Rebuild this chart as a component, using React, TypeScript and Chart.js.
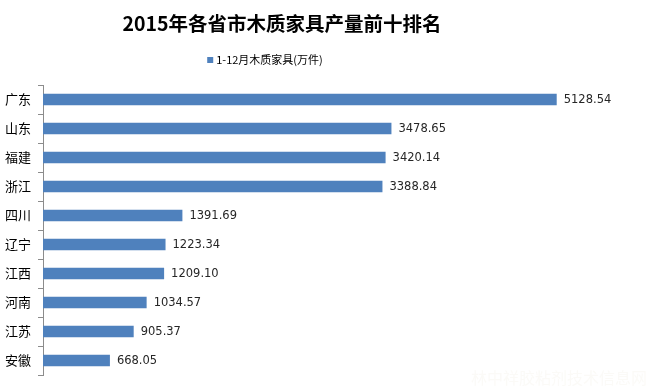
import React, { useEffect, useRef } from "react";
import { Chart, registerables } from "chart.js";

Chart.register(...registerables);

const TITLE = "2015年各省市木质家具产量前十排名";
const SERIES_NAME = "1-12月木质家具(万件)";
const WATERMARK = "林中祥胶粘剂技术信息网";
const provinces = ["广东", "山东", "福建", "浙江", "四川", "辽宁", "江西", "河南", "江苏", "安徽"];
const output = [5128.54, 3478.65, 3420.14, 3388.84, 1391.69, 1223.34, 1209.1, 1034.57, 905.37, 668.05];
const X_MIN = 0;
const X_MAX = 6000;

const BAR_COLOR = "#4F81BD";

const decorPlugin = {
  id: "decor",
  afterDraw(chart: any) {
    const ctx = chart.ctx;
    ctx.save();
    // title
    ctx.fillStyle = "#000";
    ctx.font = "bold 19.5px 'Noto Sans CJK SC'";
    ctx.textAlign = "center";
    ctx.textBaseline = "middle";
    ctx.fillText(TITLE, 282, 24);
    // legend
    ctx.font = "11px 'Noto Sans CJK SC'";
    ctx.textAlign = "left";
    const tw = ctx.measureText(SERIES_NAME).width;
    const total = 6 + 3 + tw;
    const lx = 265 - total / 2;
    ctx.fillStyle = BAR_COLOR;
    ctx.fillRect(lx, 57, 6, 6);
    ctx.fillStyle = "#000";
    ctx.fillText(SERIES_NAME, lx + 9, 60);
    // watermark
    ctx.fillStyle = "rgba(235,225,210,0.18)";
    ctx.font = "16px 'Noto Sans CJK SC'";
    ctx.textAlign = "right";
    ctx.fillText(WATERMARK, 647, 378);
    ctx.restore();
  },
  afterDatasetsDraw(chart: any) {
    const ctx = chart.ctx;
    const meta = chart.getDatasetMeta(0);
    ctx.save();
    ctx.fillStyle = "#262626";
    ctx.font = "11.5px 'DejaVu Sans'";
    ctx.textAlign = "left";
    ctx.textBaseline = "middle";
    meta.data.forEach((bar: any, i: number) => {
      const v = chart.data.datasets[0].data[i] as number;
      ctx.fillText(v.toFixed(2), bar.x + 7, bar.y + 1);
    });
    ctx.restore();
  },
};

export default function App() {
  const ref = useRef<HTMLCanvasElement>(null);
  useEffect(() => {
    const chart = new Chart(ref.current!, {
      type: "bar",
      data: {
        labels: provinces,
        datasets: [
          {
            label: SERIES_NAME,
            data: output,
            backgroundColor: BAR_COLOR,
            borderWidth: 0,
            barPercentage: 0.4,
            categoryPercentage: 1,
          },
        ],
      },
      options: {
        indexAxis: "y",
        responsive: false,
        animation: false,
        layout: { padding: { left: 5, right: 6, top: 85, bottom: 12 } },
        plugins: {
          legend: { display: false },
          title: { display: false },
          tooltip: { enabled: false },
        },
        scales: {
          x: { display: false, min: X_MIN, max: X_MAX },
          y: {
            afterFit: (s: any) => {
              s.width = 38;
            },
            grid: {
              drawOnChartArea: false,
              drawTicks: true,
              tickLength: 5,
              color: "#8c8c8c",
              offset: true,
            },
            border: { display: true, color: "#8c8c8c" },
            ticks: {
              crossAlign: "far",
              padding: 4,
              color: "#000",
              font: { family: "'Noto Sans CJK SC'", size: 13 },
            },
          },
        },
      },
      plugins: [decorPlugin],
    });
    return () => chart.destroy();
  }, []);
  return (
    <div style={{ position: "absolute", left: 0, top: 0, width: 650, height: 387, background: "#fff" }}>
      <canvas ref={ref} width={650} height={387} style={{ display: "block" }} />
    </div>
  );
}
